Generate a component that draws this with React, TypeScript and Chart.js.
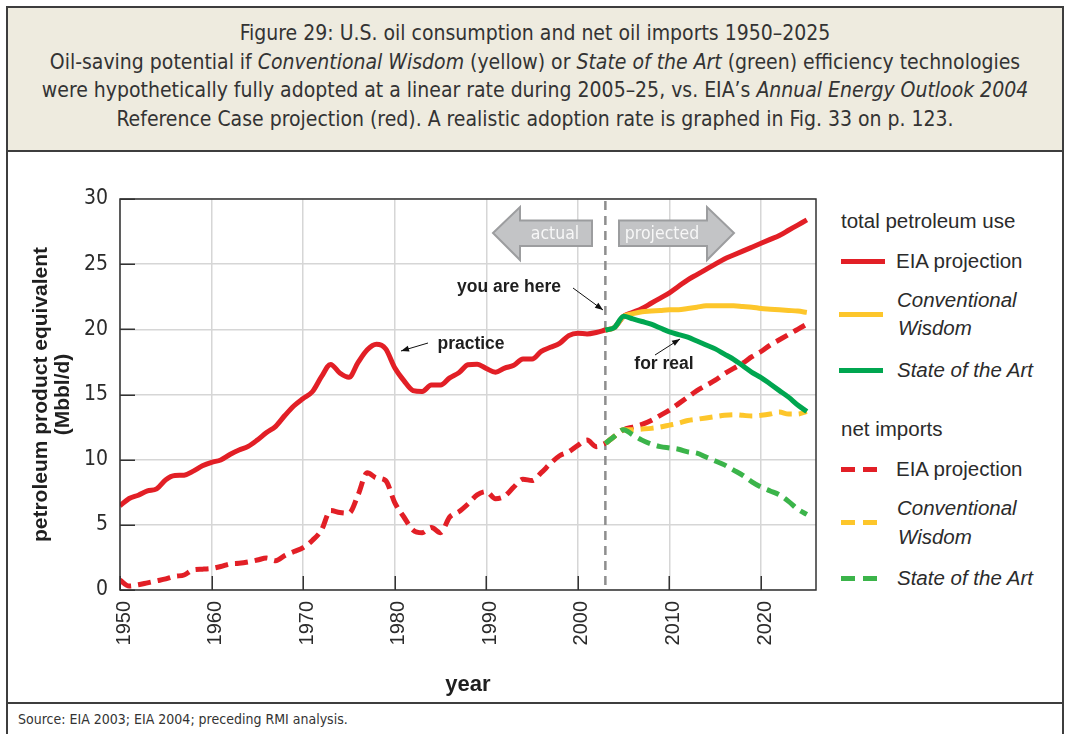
import React, { useEffect, useRef } from 'react';
import { Chart, registerables } from 'chart.js';

Chart.register(...registerables);

// ---------- data ----------
const histYears = [
  1950, 1951, 1952, 1953, 1954, 1955, 1956, 1957, 1958, 1959,
  1960, 1961, 1962, 1963, 1964, 1965, 1966, 1967, 1968, 1969,
  1970, 1971, 1972, 1973, 1974, 1975, 1976, 1977, 1978, 1979,
  1980, 1981, 1982, 1983, 1984, 1985, 1986, 1987, 1988, 1989,
  1990, 1991, 1992, 1993, 1994, 1995, 1996, 1997, 1998, 1999,
  2000, 2001, 2002, 2003,
];
const histTotal = [
  6.46, 7.02, 7.27, 7.6, 7.76, 8.46, 8.78, 8.81, 9.12, 9.53,
  9.8, 9.98, 10.4, 10.74, 11.02, 11.51, 12.08, 12.56, 13.39, 14.14,
  14.7, 15.21, 16.37, 17.31, 16.65, 16.32, 17.46, 18.43, 18.85, 18.51,
  17.06, 16.06, 15.3, 15.23, 15.73, 15.73, 16.28, 16.67, 17.28, 17.33,
  16.99, 16.71, 17.03, 17.24, 17.72, 17.72, 18.31, 18.62, 18.92, 19.52,
  19.7, 19.65, 19.76, 19.95,
];
const histImports = [
  0.75, 0.3, 0.4, 0.55, 0.7, 0.85, 1.05, 1.15, 1.55, 1.6,
  1.65, 1.8, 2.0, 2.05, 2.15, 2.3, 2.45, 2.25, 2.65, 2.95,
  3.25, 3.8, 4.6, 6.1, 5.95, 5.9, 7.3, 9.0, 8.6, 8.4,
  6.7, 5.6, 4.6, 4.4, 4.8, 4.4, 5.6, 6.0, 6.6, 7.3,
  7.55, 7.0, 7.2, 7.9, 8.5, 8.4, 9.0, 9.7, 10.3, 10.6,
  11.1, 11.5, 11.0, 11.25,
];

const projYears = [
  2003, 2004, 2005, 2006, 2007, 2008, 2009, 2010, 2011, 2012, 2013, 2014,
  2015, 2016, 2017, 2018, 2019, 2020, 2021, 2022, 2023, 2024, 2025,
];
const eiaTotal = [
  19.95, 20.15, 21.0, 21.3, 21.6, 22.0, 22.4, 22.8, 23.3, 23.8, 24.2, 24.6,
  25.0, 25.4, 25.7, 26.0, 26.3, 26.6, 26.9, 27.2, 27.6, 28.0, 28.4,
];
const cwTotal = [
  19.95, 20.15, 21.0, 21.2, 21.35, 21.4, 21.45, 21.5, 21.5, 21.6, 21.7, 21.8,
  21.8, 21.8, 21.8, 21.75, 21.7, 21.6, 21.55, 21.5, 21.45, 21.4, 21.3,
];
const sotaTotal = [
  19.95, 20.15, 21.0, 20.8, 20.6, 20.4, 20.1, 19.8, 19.6, 19.4, 19.1, 18.8,
  18.5, 18.1, 17.7, 17.2, 16.7, 16.3, 15.8, 15.3, 14.8, 14.2, 13.7,
];
const eiaImports = [
  11.25, 11.8, 12.3, 12.5, 12.7, 13.0, 13.4, 13.8, 14.3, 14.8, 15.3, 15.7,
  16.1, 16.6, 17.0, 17.4, 17.9, 18.3, 18.8, 19.2, 19.6, 20.0, 20.4,
];
const cwImports = [
  11.25, 11.8, 12.3, 12.3, 12.35, 12.4, 12.5, 12.65, 12.8, 13.0, 13.1, 13.2,
  13.3, 13.4, 13.45, 13.4, 13.35, 13.4, 13.5, 13.65, 13.5, 13.5, 13.7,
];
const sotaImports = [
  11.25, 11.8, 12.3, 11.9, 11.5, 11.2, 11.0, 10.9, 10.8, 10.6, 10.5, 10.2,
  9.9, 9.6, 9.2, 8.8, 8.3, 7.9, 7.6, 7.3, 6.8, 6.2, 5.8,
];

const xTickValues = [1950, 1960, 1970, 1980, 1990, 2000, 2010, 2020];
const yTickValues = [0, 5, 10, 15, 20, 25, 30];
const nowYear = 2003;

// ---------- styles ----------
const RED = '#e21f26';
const YELLOW = '#fdc62b';
const GREEN = '#00a650';
const GREEN_D = '#3bb44a';
const TXT = '#2b2b2b';
const NARROW = '"Liberation Sans Narrow", "Arial Narrow", "DejaVu Sans Condensed", sans-serif';
const SANS = '"Liberation Sans", Arial, sans-serif';

const pts = (xs: number[], ys: number[]) => xs.map((x, i) => ({ x, y: ys[i] }));

function arrowLine(ctx: CanvasRenderingContext2D, x1: number, y1: number, x2: number, y2: number) {
  ctx.save();
  ctx.strokeStyle = '#111';
  ctx.fillStyle = '#111';
  ctx.lineWidth = 1;
  ctx.beginPath();
  ctx.moveTo(x1, y1);
  ctx.lineTo(x2, y2);
  ctx.stroke();
  const ang = Math.atan2(y2 - y1, x2 - x1);
  const L = 8, W = 3;
  ctx.beginPath();
  ctx.moveTo(x2, y2);
  ctx.lineTo(x2 - L * Math.cos(ang) + W * Math.sin(ang), y2 - L * Math.sin(ang) - W * Math.cos(ang));
  ctx.lineTo(x2 - L * Math.cos(ang) - W * Math.sin(ang), y2 - L * Math.sin(ang) + W * Math.cos(ang));
  ctx.closePath();
  ctx.fill();
  ctx.restore();
}

function blockArrow(ctx: CanvasRenderingContext2D, poly: number[][], label: string, cx: number, cy: number) {
  ctx.save();
  ctx.beginPath();
  poly.forEach(([px, py], i) => (i === 0 ? ctx.moveTo(px, py) : ctx.lineTo(px, py)));
  ctx.closePath();
  ctx.fillStyle = '#c3c4c6';
  ctx.fill();
  ctx.strokeStyle = '#9c9d9f';
  ctx.lineWidth = 2;
  ctx.lineJoin = 'miter';
  ctx.stroke();
  ctx.fillStyle = '#f7f7f7';
  ctx.font = `17.5px ${NARROW}`;
  ctx.textAlign = 'center';
  ctx.textBaseline = 'middle';
  ctx.fillText(label, cx, cy);
  ctx.restore();
}

const decorPlugin = {
  id: 'decor',
  beforeDatasetsDraw(chart: any) {
    const { ctx, chartArea: a, scales } = chart;
    const xs = scales.x, ys = scales.y;
    ctx.save();
    ctx.strokeStyle = '#333';
    ctx.lineWidth = 1.5;
    yTickValues.forEach((v) => {
      const py = Math.round(ys.getPixelForValue(v)) + 0.25;
      ctx.beginPath();
      ctx.moveTo(a.left, py);
      ctx.lineTo(a.left + 15, py);
      ctx.stroke();
    });
    xTickValues.forEach((v) => {
      const px = Math.round(xs.getPixelForValue(v)) + 0.25;
      ctx.beginPath();
      ctx.moveTo(px, a.bottom);
      ctx.lineTo(px, a.bottom - 14);
      ctx.stroke();
    });
    const nx = xs.getPixelForValue(nowYear);
    ctx.strokeStyle = '#8e8e8e';
    ctx.lineWidth = 2.5;
    ctx.setLineDash([9, 6]);
    ctx.beginPath();
    ctx.moveTo(nx, a.top + 2);
    ctx.lineTo(nx, a.bottom);
    ctx.stroke();
    ctx.setLineDash([]);
    ctx.restore();

    blockArrow(ctx, [[493, 233], [520, 207], [520, 220.5], [592, 220.5], [592, 246], [520, 246], [520, 260]], 'actual', 555, 234);
    blockArrow(ctx, [[619, 220.5], [707, 220.5], [707, 207], [734, 233], [707, 260], [707, 246], [619, 246]], 'projected', 662, 234);
  },
  afterDatasetsDraw(chart: any) {
    const { ctx, chartArea: a } = chart;
    ctx.save();
    ctx.strokeStyle = '#333';
    ctx.lineWidth = 1.5;
    ctx.strokeRect(a.left, a.top, a.right - a.left, a.bottom - a.top);
    ctx.fillStyle = '#1f1f1f';
    ctx.font = `bold 17.5px ${SANS}`;
    ctx.textAlign = 'center';
    ctx.textBaseline = 'middle';
    ctx.fillText('you are here', 509, 287);
    ctx.fillText('practice', 471, 344);
    ctx.fillText('for real', 664, 364);
    ctx.restore();
    arrowLine(ctx, 573, 288, 603, 310);
    arrowLine(ctx, 428, 343, 401, 351);
    arrowLine(ctx, 655, 355, 680, 339);
  },
};

const legendSolid = { width: 44, height: 5 };

function LegendLine({ color, dashed, top, left }: { color: string; dashed?: boolean; top: number; left: number }) {
  if (dashed) {
    return (
      <div style={{ position: 'absolute', left, top: top - 2.5, height: 5, width: 40 }}>
        <div style={{ position: 'absolute', left: 0, top: 0, width: 14, height: 5, background: color }} />
        <div style={{ position: 'absolute', left: 22, top: 0, width: 14, height: 5, background: color }} />
      </div>
    );
  }
  return <div style={{ position: 'absolute', left, top: top - 2.5, ...legendSolid, background: color }} />;
}

function LegendText({ text, top, left, italic }: { text: string; top: number; left: number; italic?: boolean }) {
  return (
    <div
      style={{
        position: 'absolute',
        left,
        top: top - 13,
        height: 26,
        lineHeight: '26px',
        fontFamily: SANS,
        fontSize: 20.5,
        fontStyle: italic ? 'italic' : 'normal',
        color: TXT,
        whiteSpace: 'nowrap',
      }}
    >
      {text}
    </div>
  );
}

export default function App() {
  const canvasRef = useRef<HTMLCanvasElement | null>(null);

  useEffect(() => {
    const canvas = canvasRef.current;
    if (!canvas) return;
    const solid = (label: string, xs: number[], ys: number[], color: string) => ({
      label,
      data: pts(xs, ys),
      borderColor: color,
      backgroundColor: color,
      borderWidth: 5,
      pointRadius: 0,
      tension: 0.3,
      cubicInterpolationMode: 'monotone' as const,
      borderJoinStyle: 'round' as const,
      borderCapStyle: 'butt' as const,
      fill: false,
    });
    const dashed = (label: string, xs: number[], ys: number[], color: string) => ({
      ...solid(label, xs, ys, color),
      borderDash: [13, 7],
    });

    const chart = new Chart(canvas, {
      type: 'line',
      data: {
        datasets: [
          solid('State of the Art (total)', projYears, sotaTotal, GREEN),
          solid('Conventional Wisdom (total)', projYears, cwTotal, YELLOW),
          solid('EIA projection (total)', projYears, eiaTotal, RED),
          solid('total petroleum use', histYears, histTotal, RED),
          dashed('State of the Art (imports)', projYears, sotaImports, GREEN_D),
          dashed('Conventional Wisdom (imports)', projYears, cwImports, YELLOW),
          dashed('EIA projection (imports)', projYears, eiaImports, RED),
          dashed('net imports', histYears, histImports, RED),
        ],
      },
      options: {
        animation: false,
        responsive: false,
        devicePixelRatio: 1,
        events: [],
        layout: { padding: { left: 24, top: 199, right: 14, bottom: 0 } },
        plugins: {
          legend: { display: false },
          tooltip: { enabled: false },
          title: { display: false },
        },
        scales: {
          x: {
            type: 'linear',
            min: 1950,
            max: 2026,
            afterBuildTicks: (scale: any) => {
              scale.ticks = xTickValues.map((v) => ({ value: v }));
            },
            afterFit: (scale: any) => {
              scale.height = 112;
            },
            grid: { color: '#d6d6d6', lineWidth: 1.5, drawTicks: false },
            border: { display: false },
            ticks: {
              autoSkip: false,
              minRotation: 90,
              maxRotation: 90,
              padding: 11,
              labelOffset: 4,
              color: TXT,
              font: { family: SANS, size: 20 },
              callback: (v: any) => String(v),
            },
            title: {
              display: true,
              text: 'year',
              color: '#1f1f1f',
              font: { family: SANS, size: 22, weight: 'bold' },
              padding: { top: 0, bottom: 4 },
            },
          },
          y: {
            type: 'linear',
            min: 0,
            max: 30,
            afterBuildTicks: (scale: any) => {
              scale.ticks = yTickValues.map((v) => ({ value: v }));
            },
            afterFit: (scale: any) => {
              scale.width = 96;
            },
            grid: { color: '#d6d6d6', lineWidth: 1.5, drawTicks: false },
            border: { display: false },
            ticks: {
              padding: 12,
              color: TXT,
              font: { family: NARROW, size: 21 },
            },
            title: {
              display: true,
              text: ['petroleum product equivalent', '(Mbbl/d)'],
              color: '#1f1f1f',
              font: { family: SANS, size: 21, weight: 'bold', lineHeight: 1.05 },
              padding: { top: 6, bottom: 0 },
            },
          },
        },
      },
      plugins: [decorPlugin],
    } as any);
    return () => chart.destroy();
  }, []);

  const titleLine: React.CSSProperties = { height: 28.5, lineHeight: '28.5px', whiteSpace: 'nowrap' };

  return (
    <div style={{ position: 'absolute', left: 0, top: 0, width: 1065, height: 734, background: '#fff', overflow: 'hidden' }}>
      {/* frame */}
      <div style={{ position: 'absolute', left: 6, top: 6, width: 1058, height: 760, border: '2px solid #3d3d3d', boxSizing: 'border-box' }} />
      <div style={{ position: 'absolute', left: 8, top: 8, width: 1054, height: 141.5, background: '#eeebdf' }} />
      <div style={{ position: 'absolute', left: 6, top: 149.5, width: 1058, height: 2, background: '#3d3d3d' }} />
      <div style={{ position: 'absolute', left: 6, top: 701.5, width: 1058, height: 2, background: '#3d3d3d' }} />

      {/* title */}
      <div
        style={{
          position: 'absolute',
          left: 8,
          top: 19,
          width: 1054,
          textAlign: 'center',
          fontFamily: NARROW,
          fontSize: 21,
          color: '#333',
        }}
      >
        <div style={titleLine}>Figure 29: U.S. oil consumption and net oil imports 1950–2025</div>
        <div style={titleLine}>
          Oil-saving potential if <i>Conventional Wisdom</i> (yellow) or <i>State of the Art</i> (green) efficiency technologies
        </div>
        <div style={titleLine}>
          were hypothetically fully adopted at a linear rate during 2005–25, vs. EIA’s <i>Annual Energy Outlook 2004</i>
        </div>
        <div style={titleLine}>Reference Case projection (red). A realistic adoption rate is graphed in Fig. 33 on p. 123.</div>
      </div>

      {/* chart */}
      <canvas ref={canvasRef} width={830} height={702} style={{ position: 'absolute', left: 0, top: 0, width: 830, height: 702 }} />

      {/* legend */}
      <LegendText text="total petroleum use" top={221} left={841} />
      <LegendLine color={RED} top={261} left={841} />
      <LegendText text="EIA projection" top={261} left={896} />
      <LegendLine color={YELLOW} top={314} left={839} />
      <LegendText text="Conventional" top={300} left={897} italic />
      <LegendText text="Wisdom" top={328} left={898} italic />
      <LegendLine color={GREEN} top={370} left={839} />
      <LegendText text="State of the Art" top={370} left={897} italic />

      <LegendText text="net imports" top={429} left={841} />
      <LegendLine color={RED} dashed top={469} left={841} />
      <LegendText text="EIA projection" top={469} left={896} />
      <LegendLine color={YELLOW} dashed top={522} left={841} />
      <LegendText text="Conventional" top={508} left={897} italic />
      <LegendText text="Wisdom" top={537} left={898} italic />
      <LegendLine color={GREEN_D} dashed top={578} left={841} />
      <LegendText text="State of the Art" top={578} left={897} italic />

      {/* source */}
      <div
        style={{
          position: 'absolute',
          left: 18,
          top: 709,
          height: 20,
          lineHeight: '20px',
          fontFamily: NARROW,
          fontSize: 14,
          color: '#333',
          whiteSpace: 'nowrap',
        }}
      >
        Source: EIA 2003; EIA 2004; preceding RMI analysis.
      </div>
    </div>
  );
}
